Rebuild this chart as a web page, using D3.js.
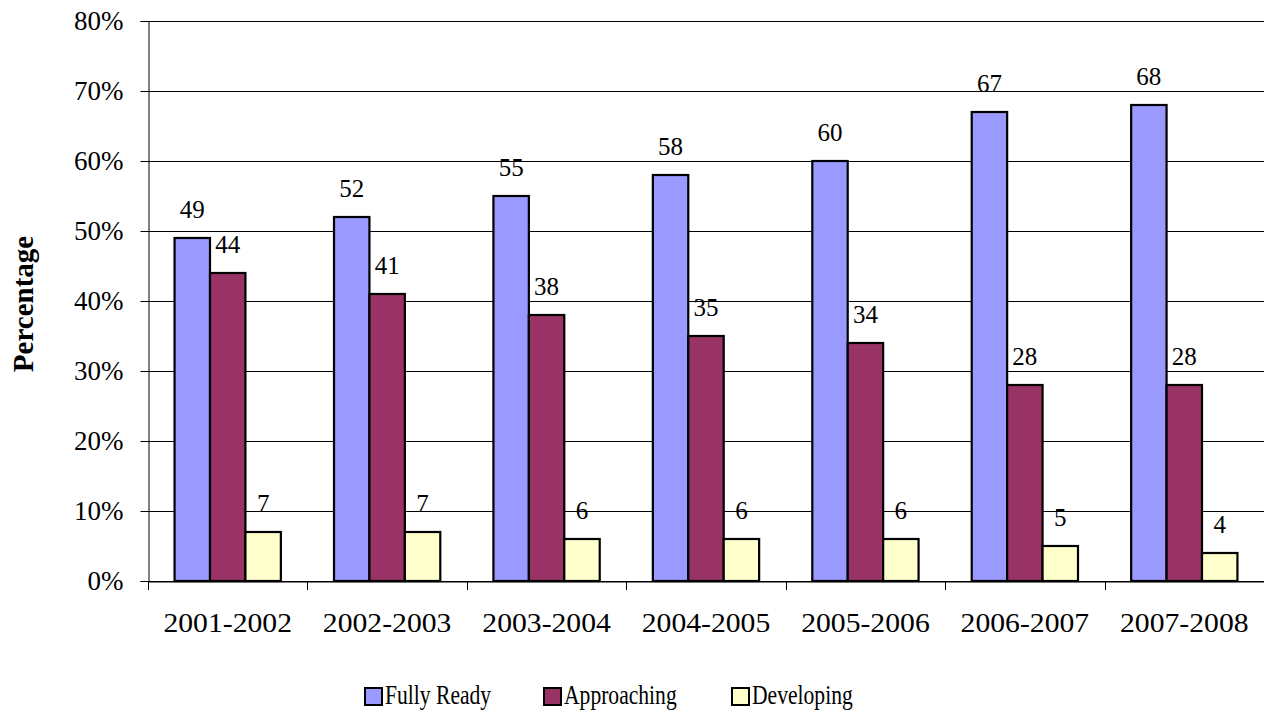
<!DOCTYPE html>
<html>
<head>
<meta charset="utf-8">
<script src="https://cdn.jsdelivr.net/npm/d3@7"></script>
<style>
  html, body { margin: 0; padding: 0; background: #fff; }
  svg { display: block; }
  svg text { font-family: 'Liberation Serif', 'Times New Roman', Times, serif; fill: #000; }
</style>
</head>
<body>
<svg id="chart" width="1264" height="712"></svg>
<script>
// School years on the x axis
const categories = ["2001-2002", "2002-2003", "2003-2004", "2004-2005", "2005-2006", "2006-2007", "2007-2008"];
// Percent of children in each readiness level
const fullyReady = [49, 52, 55, 58, 60, 67, 68];
const approaching = [44, 41, 38, 35, 34, 28, 28];
const developing = [7, 7, 6, 6, 6, 5, 4];
const seriesNames = ["Fully Ready", "Approaching", "Developing"];
const seriesColors = ["#9999FF", "#993366", "#FFFFCC"];
const yTicks = [0, 10, 20, 30, 40, 50, 60, 70, 80];

const seriesValues = [fullyReady, approaching, developing];
const FONT = "'Liberation Serif', 'Times New Roman', Times, serif";

const svg = d3.select("#chart").attr("font-family", FONT);
const margin = { left: 148, right: 0, top: 21, bottom: 131 };
const W = 1264, H = 712;
const plotW = W - margin.left - margin.right;
const plotH = H - margin.top - margin.bottom;

const g = svg.append("g").attr("transform", `translate(${margin.left},${margin.top})`);

const x = d3.scaleBand().domain(categories).range([0, plotW]).paddingInner(0).paddingOuter(0);
// Excel-style 50% gap width: the cluster fills 2/3 of each category
const inner = d3.scaleBand().domain(seriesNames)
  .range([0, x.bandwidth() / 1.5]).padding(0);
const y = d3.scaleLinear().domain([0, 80]).range([plotH, 0]);

// Horizontal gridlines
g.append("g").selectAll("line").data(yTicks).join("line")
  .attr("x1", 0).attr("x2", plotW)
  .attr("y1", d => Math.round(y(d)) + 0.5).attr("y2", d => Math.round(y(d)) + 0.5)
  .attr("stroke", "#000").attr("stroke-width", 1);

// Y axis
const yAxis = g.append("g")
  .attr("transform", "translate(0.5,0)")
  .call(d3.axisLeft(y).tickValues(yTicks).tickFormat(d => d + "%").tickSize(8).tickPadding(17))
  .attr("font-family", FONT);
yAxis.select(".domain").attr("stroke", "#000");
yAxis.selectAll(".tick line").attr("stroke", "#000");
yAxis.selectAll(".tick text")
  .style("font-size", "27px").attr("fill", "#000");

// X axis
const xAxis = g.append("g")
  .attr("transform", `translate(0,${Math.round(plotH) + 0.5})`)
  .call(d3.axisBottom(x).tickSize(0).tickPadding(0));
xAxis.select(".domain").attr("stroke", "#000");
xAxis.selectAll(".tick text").remove();
// Category boundary ticks
g.append("g").selectAll("line").data(d3.range(categories.length + 1)).join("line")
  .attr("x1", i => Math.round(i * x.step()) + 0.5).attr("x2", i => Math.round(i * x.step()) + 0.5)
  .attr("y1", plotH).attr("y2", plotH + 9)
  .attr("stroke", "#000");
g.append("g").selectAll("text").data(categories).join("text")
  .attr("transform", d => `translate(${x(d) + x.bandwidth() / 2},${plotH + 51}) scale(1.06,1)`)
  .attr("text-anchor", "middle")
  .style("font-size", "28px")
  .text(d => d);

// Bars with value labels
const groupOffset = (x.bandwidth() - x.bandwidth() / 1.5) / 2;
seriesNames.forEach((name, si) => {
  const vals = seriesValues[si];
  const grp = g.append("g");
  grp.selectAll("rect").data(categories).join("rect")
    .attr("x", (d) => x(d) + groupOffset + inner(name))
    .attr("y", (d, i) => y(vals[i]))
    .attr("width", inner.bandwidth())
    .attr("height", (d, i) => plotH - y(vals[i]))
    .attr("fill", seriesColors[si])
    .attr("stroke", "#000").attr("stroke-width", 2.2);
  grp.selectAll("text").data(categories).join("text")
    .attr("x", d => x(d) + groupOffset + inner(name) + inner.bandwidth() / 2)
    .attr("y", (d, i) => y(vals[i]) - 20)
    .attr("text-anchor", "middle")
    .style("font-size", "25px")
    .text((d, i) => vals[i]);
});

// Y axis title
svg.append("text")
  .attr("transform", "translate(33,304) rotate(-90)")
  .attr("text-anchor", "middle")
  .style("font-size", "29px").style("font-weight", "bold")
  .text("Percentage");

// Legend
const legendX = [365, 544, 732];
const legend = svg.append("g");
seriesNames.forEach((name, i) => {
  legend.append("rect")
    .attr("x", legendX[i]).attr("y", 688).attr("width", 17).attr("height", 17)
    .attr("fill", seriesColors[i]).attr("stroke", "#000").attr("stroke-width", 2);
  legend.append("text")
    .attr("transform", `translate(${legendX[i] + 20},704) scale(0.8,1)`)
    .style("font-size", "27px")
    .text(name);
});
</script>
</body>
</html>
